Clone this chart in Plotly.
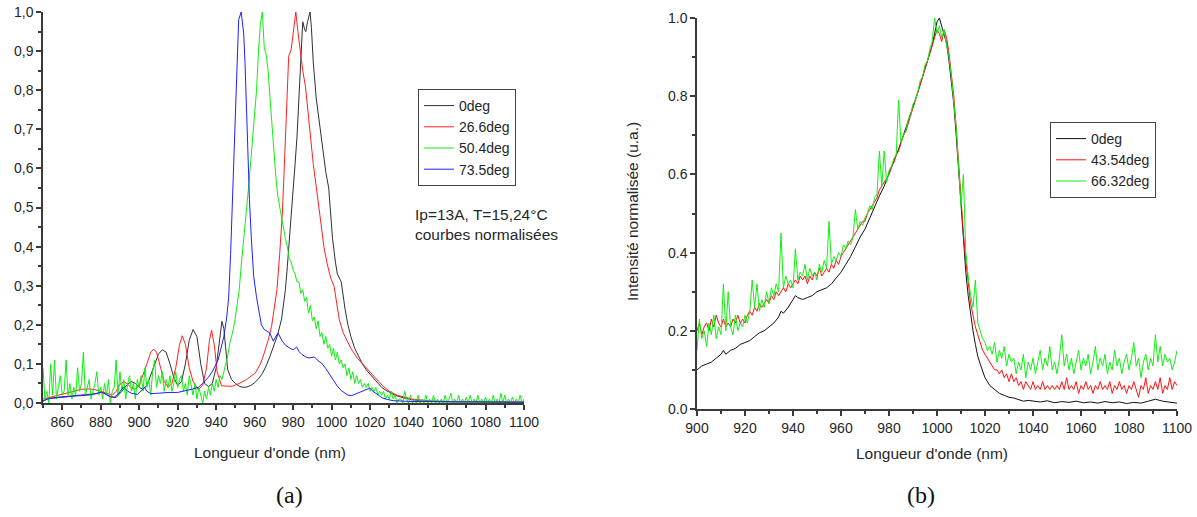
import numpy as np
import plotly.graph_objects as go

# ---------------- (a) data ----------------
a_black_x = [850, 853, 858, 865, 872, 878, 880, 882, 885, 888, 891, 894, 896, 898, 900, 902, 904, 906, 908, 910,
             912, 914, 916, 918, 920, 922, 924, 926, 928, 930, 932, 934, 936, 938, 940, 942, 943, 944, 945, 946,
             948, 950, 952, 954, 956, 958, 960, 962, 964, 966, 968, 970, 972, 974, 976, 977, 978, 979, 980, 981,
             982, 983, 984, 985, 986, 986.6, 987.5, 988.8, 989.5, 990.5, 992, 993.5, 995, 997, 998.5, 999.5, 1000.5,
             1002, 1003, 1005, 1006, 1007, 1008.5, 1010, 1012, 1014, 1016, 1018, 1020, 1022, 1024, 1026, 1028,
             1030, 1033, 1036, 1040, 1045, 1050, 1060, 1080, 1100]
a_black_y = [0.005, 0.012, 0.015, 0.018, 0.02, 0.024, 0.027, 0.024, 0.016, 0.014, 0.03, 0.048, 0.055, 0.05, 0.04, 0.035, 0.045, 0.07, 0.1, 0.125,
             0.136, 0.13, 0.1, 0.065, 0.045, 0.055, 0.1, 0.16, 0.188, 0.17, 0.1, 0.05, 0.042, 0.05, 0.09, 0.18, 0.209, 0.19, 0.13, 0.085,
             0.06, 0.05, 0.043, 0.04, 0.041, 0.045, 0.052, 0.062, 0.075, 0.095, 0.12, 0.15, 0.175, 0.215, 0.29, 0.35, 0.41, 0.48, 0.55, 0.61,
             0.68, 0.79, 0.9, 0.975, 0.955, 0.95, 0.975, 1.0, 0.96, 0.87, 0.78, 0.72, 0.67, 0.59, 0.55, 0.49, 0.42,
             0.36, 0.33, 0.31, 0.27, 0.24, 0.2, 0.17, 0.14, 0.12, 0.1, 0.085, 0.074, 0.062, 0.05, 0.04, 0.033,
             0.027, 0.02, 0.015, 0.01, 0.006, 0.004, 0.003, 0.002, 0.002]

a_red_x = [850, 854, 858, 862, 866, 870, 874, 877, 880, 883, 886, 888, 890, 892, 894, 896, 898, 900, 902, 904,
           906, 907.5, 909, 911, 913, 915, 917, 919, 921, 922.4, 924, 926, 928, 930.7, 933, 935, 936.5, 937.6, 939, 940.5,
           942.8, 946, 948.4, 952, 955.8, 960.4, 963, 965, 967, 968.8, 970, 971.6, 973, 974.4, 975.3, 976.2, 977, 977.7,
           979, 980, 981.4, 982.5, 983.6, 985, 986.4, 988, 989.2, 990.5, 992, 993.5, 994.8, 996, 997.6, 999.5, 1001.3,
           1003, 1004, 1006, 1007.8, 1010, 1013.3, 1016, 1019, 1022, 1024.5, 1027, 1030, 1034, 1037.5, 1042, 1050,
           1060, 1080, 1100]
a_red_y = [0.01, 0.015, 0.02, 0.025, 0.03, 0.035, 0.036, 0.034, 0.03, 0.025, 0.02, 0.03, 0.048, 0.055, 0.048, 0.038, 0.035, 0.045, 0.07, 0.1,
           0.13, 0.138, 0.13, 0.09, 0.055, 0.04, 0.05, 0.09, 0.15, 0.172, 0.15, 0.09, 0.055, 0.034, 0.045, 0.09, 0.16, 0.186, 0.15, 0.08,
           0.044, 0.043, 0.043, 0.05, 0.06, 0.077, 0.1, 0.128, 0.16, 0.196, 0.24, 0.29, 0.38, 0.486, 0.59, 0.69, 0.8, 0.887,
           0.904, 0.95, 1.0, 0.95, 0.9, 0.85, 0.81, 0.73, 0.673, 0.61, 0.554, 0.5, 0.452, 0.4, 0.358, 0.32, 0.298,
           0.24, 0.213, 0.18, 0.162, 0.14, 0.115, 0.1, 0.085, 0.068, 0.055, 0.042, 0.03, 0.02, 0.015, 0.01, 0.006,
           0.004, 0.003, 0.003]

a_blue_x = [850, 852, 855, 860, 865, 870, 875, 878, 880.6, 883, 885, 887, 889, 891, 892, 894, 896, 899, 901, 902.9,
            904, 906, 910, 915, 920, 925, 928, 930.7, 933, 936, 938, 941, 944, 945.5, 946.5, 947.5, 948.4, 949.5, 950.3, 951,
            951.7, 953, 954.3, 955, 955.8, 956.5, 957.3, 958.3, 959.5, 961, 962.3, 963.5, 965, 967.9, 969.7, 972.1, 974.4,
            976, 978, 980, 981.8, 983, 984.6, 986.5, 988.3, 991, 993, 994.8, 997, 998.5, 1000.5, 1003, 1005, 1006.8,
            1008.5, 1010.5, 1013, 1015, 1017.5, 1019.8, 1021.5, 1022.6, 1024.5, 1026.3, 1029, 1032, 1040, 1060, 1100]
a_blue_y = [0.005, 0.01, 0.012, 0.015, 0.017, 0.019, 0.021, 0.025, 0.028, 0.022, 0.016, 0.015, 0.022, 0.036, 0.04, 0.03, 0.025, 0.022, 0.032, 0.04,
            0.03, 0.024, 0.025, 0.027, 0.027, 0.032, 0.036, 0.04, 0.05, 0.066, 0.08, 0.11, 0.17, 0.22, 0.27, 0.38, 0.52, 0.68, 0.82, 0.93,
            0.98, 1.0, 0.946, 0.87, 0.733, 0.62, 0.52, 0.42, 0.324, 0.27, 0.23, 0.2, 0.188, 0.179, 0.158, 0.179, 0.158,
            0.148, 0.141, 0.136, 0.143, 0.132, 0.124, 0.118, 0.115, 0.118, 0.108, 0.102, 0.088, 0.077, 0.06, 0.043, 0.032, 0.026,
            0.02, 0.019, 0.024, 0.03, 0.035, 0.038, 0.03, 0.026, 0.018, 0.013, 0.009, 0.006, 0.004, 0.003, 0.002]

# green (50.4deg), one value per nm starting at 850 nm
a_green_start = 850
a_green_y = [
    0.09, 0.01, 0.03, 0.00, 0.10, 0.02, 0.11, 0.01, 0.04, 0.07,
    0.02, 0.03, 0.11, 0.02, 0.05, 0.01, 0.04, 0.02, 0.09, 0.03,
    0.05, 0.13, 0.02, 0.04, 0.06, 0.01, 0.03, 0.05, 0.08, 0.02,
    0.04, 0.01, 0.05, 0.02, 0.06, 0.00, 0.03, 0.04, 0.11, 0.02,
    0.08, 0.03, 0.06, 0.01, 0.05, 0.07, 0.03, 0.05, 0.01, 0.06,
    0.04, 0.07, 0.03, 0.09, 0.04, 0.06, 0.02, 0.08, 0.11, 0.04,
    0.07, 0.05, 0.08, 0.03, 0.06, 0.04, 0.07, 0.03, 0.05, 0.08,
    0.04, 0.06, 0.07, 0.03, 0.05, 0.02, 0.07, 0.04, 0.02, 0.05,
    0.01, 0.04, 0.02, 0.00, 0.03, 0.01, 0.04, 0.02, 0.05, 0.03,
    0.06, 0.04, 0.07, 0.06, 0.08, 0.10, 0.12, 0.15, 0.17, 0.19,
    0.22, 0.25, 0.29, 0.35, 0.40, 0.46, 0.51, 0.56, 0.62, 0.68,
    0.73, 0.80, 0.90, 0.97, 1.00, 0.91, 0.89, 0.85, 0.78, 0.71,
    0.64, 0.58, 0.53, 0.50, 0.47, 0.45, 0.42, 0.40, 0.37, 0.36,
    0.34, 0.33, 0.31, 0.31, 0.28, 0.29, 0.26, 0.27, 0.23, 0.25,
    0.21, 0.22, 0.19, 0.21, 0.17, 0.18, 0.15, 0.17, 0.14, 0.15,
    0.12, 0.14, 0.11, 0.13, 0.10, 0.11, 0.09, 0.10, 0.07, 0.09,
    0.06, 0.08, 0.05, 0.07, 0.05, 0.06, 0.04, 0.05, 0.04, 0.05,
    0.03, 0.04, 0.03, 0.04, 0.02, 0.03, 0.02, 0.03, 0.01, 0.02,
    0.01, 0.03, 0.01, 0.02, 0.00, 0.01, 0.01, 0.00, 0.03, 0.01,
    0.00, 0.02, 0.00, 0.01, 0.00, 0.02, 0.00, 0.01, 0.00, 0.02,
    0.00, 0.01, 0.00, 0.02, 0.00, 0.01, 0.00, 0.01, 0.00, 0.02,
    0.00, 0.01, 0.025, 0.00, 0.01, 0.00, 0.02, 0.00, 0.01, 0.00,
    0.015, 0.00, 0.02, 0.00, 0.01, 0.00, 0.02, 0.00, 0.01, 0.00,
    0.015, 0.00, 0.01, 0.00, 0.02, 0.00, 0.01, 0.00, 0.025, 0.00,
    0.02, 0.00, 0.01, 0.00, 0.015, 0.00, 0.01, 0.00, 0.02, 0.00,
    0.01,
]

# ---------------- (b) data ----------------
b_black_x = [900, 902, 904, 906, 908, 910, 911, 912, 914, 916, 918, 920, 922, 924, 926, 928, 930, 932, 934, 935,
             936, 938, 940, 941, 942, 944, 946, 948, 950, 952, 954, 956, 958, 960, 962, 964, 966, 968, 970, 972,
             974, 976, 978, 980, 982, 984, 986, 988, 990, 992, 994, 996, 998, 999, 1000, 1001, 1002, 1003, 1004, 1005,
             1006, 1007, 1008, 1009, 1010, 1011, 1012, 1013, 1014, 1015, 1016, 1017, 1018, 1019, 1020, 1022, 1024, 1026,
             1028, 1030, 1032, 1034, 1036, 1038, 1040, 1043, 1046, 1049, 1052, 1055, 1058, 1061, 1064, 1067, 1070,
             1073, 1076, 1079, 1082, 1085, 1088, 1091, 1094, 1097, 1100]
b_black_y = [0.10, 0.11, 0.115, 0.12, 0.13, 0.14, 0.15, 0.14, 0.15, 0.155, 0.165, 0.17, 0.175, 0.185, 0.195, 0.20, 0.21, 0.22, 0.235, 0.25,
             0.245, 0.26, 0.28, 0.29, 0.285, 0.28, 0.285, 0.29, 0.30, 0.305, 0.31, 0.32, 0.335, 0.35, 0.37, 0.39, 0.415, 0.44, 0.46, 0.49,
             0.515, 0.545, 0.57, 0.60, 0.63, 0.665, 0.70, 0.735, 0.77, 0.81, 0.85, 0.89, 0.93, 0.96, 0.99, 1.0, 0.98, 0.96, 0.935, 0.89,
             0.84, 0.78, 0.70, 0.61, 0.52, 0.43, 0.35, 0.29, 0.24, 0.20, 0.165, 0.135, 0.115, 0.095, 0.08, 0.06, 0.05, 0.04,
             0.035, 0.03, 0.028, 0.025, 0.02, 0.022, 0.02, 0.018, 0.021, 0.016, 0.019, 0.017, 0.02, 0.016, 0.018, 0.015, 0.019,
             0.016, 0.018, 0.014, 0.017, 0.015, 0.02, 0.025, 0.02, 0.018, 0.015]

# red (43.54deg), one value per nm starting at 900 nm
b_red_start = 900
b_red_y = [
    0.20, 0.22, 0.19, 0.21, 0.22, 0.20, 0.23, 0.21, 0.24, 0.22,
    0.21, 0.23, 0.21, 0.22, 0.21, 0.23, 0.22, 0.24, 0.22, 0.23,
    0.22, 0.24, 0.25, 0.24, 0.26, 0.25, 0.27, 0.26, 0.27, 0.28,
    0.27, 0.29, 0.28, 0.30, 0.29, 0.30, 0.31, 0.30, 0.32, 0.31,
    0.32, 0.33, 0.32, 0.34, 0.33, 0.34, 0.32, 0.34, 0.33, 0.35,
    0.34, 0.36, 0.34, 0.35, 0.36, 0.35, 0.37, 0.36, 0.38, 0.37,
    0.39, 0.40, 0.41, 0.42, 0.43, 0.44, 0.45, 0.46, 0.47, 0.48,
    0.48, 0.50, 0.51, 0.52, 0.53, 0.54, 0.56, 0.57, 0.58, 0.59,
    0.60, 0.62, 0.63, 0.65, 0.66, 0.68, 0.70, 0.71, 0.73, 0.75,
    0.77, 0.79, 0.81, 0.83, 0.85, 0.87, 0.89, 0.91, 0.93, 0.95,
    0.97, 0.96, 0.94, 0.97, 0.95, 0.91, 0.86, 0.80, 0.72, 0.63,
    0.53, 0.45, 0.38, 0.32, 0.27, 0.24, 0.21, 0.19, 0.17, 0.15,
    0.14, 0.13, 0.12, 0.11, 0.10, 0.10, 0.09, 0.10, 0.08, 0.09,
    0.07, 0.09, 0.07, 0.08, 0.06, 0.07, 0.05, 0.07, 0.06, 0.05,
    0.07, 0.05, 0.06, 0.05, 0.07, 0.05, 0.06, 0.05, 0.06, 0.05,
    0.06, 0.05, 0.07, 0.05, 0.08, 0.05, 0.06, 0.05, 0.07, 0.04,
    0.06, 0.05, 0.07, 0.05, 0.06, 0.04, 0.06, 0.05, 0.07, 0.05,
    0.06, 0.05, 0.07, 0.04, 0.06, 0.05, 0.07, 0.05, 0.06, 0.04,
    0.06, 0.05, 0.07, 0.05, 0.03, 0.06, 0.05, 0.08, 0.04, 0.06,
    0.05, 0.07, 0.05, 0.08, 0.04, 0.06, 0.05, 0.08, 0.05, 0.07,
    0.06,
]

# green (66.32deg), one value per nm starting at 900 nm
b_green_start = 900
b_green_y = [
    0.15, 0.23, 0.18, 0.20, 0.16, 0.22, 0.19, 0.24, 0.18, 0.21,
    0.19, 0.32, 0.20, 0.30, 0.21, 0.19, 0.24, 0.20, 0.22, 0.21,
    0.24, 0.22, 0.25, 0.33, 0.26, 0.32, 0.25, 0.28, 0.26, 0.30,
    0.27, 0.31, 0.29, 0.32, 0.30, 0.45, 0.31, 0.34, 0.32, 0.33,
    0.31, 0.41, 0.33, 0.35, 0.34, 0.37, 0.33, 0.36, 0.34, 0.35,
    0.33, 0.37, 0.35, 0.38, 0.36, 0.48, 0.37, 0.39, 0.38, 0.40,
    0.39, 0.42, 0.41, 0.43, 0.42, 0.44, 0.51, 0.46, 0.48, 0.47,
    0.49, 0.50, 0.52, 0.51, 0.54, 0.55, 0.66, 0.57, 0.66, 0.58,
    0.61, 0.62, 0.64, 0.65, 0.79, 0.68, 0.70, 0.71, 0.74, 0.75,
    0.78, 0.79, 0.81, 0.84, 0.85, 0.88, 0.89, 0.92, 0.94, 1.00,
    0.96, 0.98, 0.95, 0.97, 0.93, 0.90, 0.85, 0.79, 0.72, 0.62,
    0.52, 0.60, 0.40, 0.34, 0.29, 0.26, 0.33, 0.22, 0.20, 0.18,
    0.17, 0.15, 0.16, 0.14, 0.17, 0.12, 0.15, 0.13, 0.16, 0.11,
    0.14, 0.12, 0.13, 0.09, 0.12, 0.10, 0.14, 0.08, 0.12, 0.10,
    0.13, 0.09, 0.12, 0.15, 0.10, 0.13, 0.11, 0.16, 0.10, 0.12,
    0.09, 0.13, 0.19, 0.11, 0.14, 0.10, 0.13, 0.09, 0.12, 0.15,
    0.10, 0.13, 0.11, 0.14, 0.09, 0.12, 0.16, 0.10, 0.13, 0.11,
    0.14, 0.09, 0.12, 0.10, 0.15, 0.11, 0.13, 0.09, 0.12, 0.14,
    0.10, 0.13, 0.17, 0.11, 0.13, 0.08, 0.12, 0.14, 0.10, 0.13,
    0.11, 0.19, 0.12, 0.16, 0.11, 0.14, 0.12, 0.13, 0.10, 0.12,
    0.15,
]

a_ticks = [0.0, 0.1, 0.2, 0.3, 0.4, 0.5, 0.6, 0.7, 0.8, 0.9, 1.0]
a_ticktext = ["0,0", "0,1", "0,2", "0,3", "0,4", "0,5", "0,6", "0,7", "0,8", "0,9", "1,0"]

a_green_x = a_green_start + np.arange(len(a_green_y))
b_red_x = b_red_start + np.arange(len(b_red_y))
b_green_x = b_green_start + np.arange(len(b_green_y))

W, H = 1197, 517
FONT = "Liberation Sans, Arial, sans-serif"
TXT = "#262626"
AX = "#3a3a3a"

fig = go.Figure()

def line(x, y, color, name, xa, ya, leg):
    fig.add_trace(go.Scatter(x=x, y=y, mode="lines", name=name, xaxis=xa, yaxis=ya,
                             legend=leg, legendgroup=leg + name,
                             line=dict(color=color, width=1)))

line(a_black_x, a_black_y, "#303030", "0deg", "x", "y", "legend")
line(a_red_x, a_red_y, "#ff2020", "26.6deg", "x", "y", "legend")
line(a_green_x, a_green_y, "#10ee10", "50.4deg", "x", "y", "legend")
line(a_blue_x, a_blue_y, "#2020ff", "73.5deg", "x", "y", "legend")

line(b_black_x, b_black_y, "#101010", "0deg", "x2", "y2", "legend2")
line(b_red_x, b_red_y, "#ff1010", "43.54deg", "x2", "y2", "legend2")
line(b_green_x, b_green_y, "#10f010", "66.32deg", "x2", "y2", "legend2")

def px_x(p):
    return p / W

def px_y(p):
    return 1 - p / H

axis_common = dict(showline=True, linecolor=AX, linewidth=1.5, ticks="outside", ticklen=5,
                   tickwidth=1.5, tickcolor=AX, showgrid=False, zeroline=False, mirror=False,
                   tickfont=dict(family=FONT, size=14, color=TXT))

leg_common = dict(xanchor="left", yanchor="top", bgcolor="white", bordercolor="#444", borderwidth=1,
                  font=dict(family=FONT, size=14, color=TXT), tracegroupgap=0, itemwidth=30)

fig.update_layout(
    width=W, height=H, autosize=False,
    margin=dict(l=0, r=0, t=0, b=0, pad=0, autoexpand=False),
    paper_bgcolor="white", plot_bgcolor="white",
    showlegend=True,
    xaxis=dict(domain=[px_x(43), px_x(524)], range=[850, 1100], anchor="y",
               tickvals=list(range(860, 1101, 20)),
               minor=dict(ticks="outside", tickvals=list(range(850, 1101, 10)), ticklen=3, tickcolor=AX),
               **axis_common),
    yaxis=dict(domain=[px_y(403), px_y(12)], range=[0, 1.0], anchor="x",
               tickvals=a_ticks, ticktext=a_ticktext,
               minor=dict(ticks="outside", dtick=0.05, ticklen=3, tickcolor=AX),
               **axis_common),
    xaxis2=dict(domain=[px_x(697), px_x(1177)], range=[900, 1100], anchor="y2",
                tickvals=list(range(900, 1101, 20)),
                minor=dict(ticks="outside", dtick=10, ticklen=3, tickcolor=AX),
                **axis_common),
    yaxis2=dict(domain=[px_y(409), px_y(18)], range=[0, 1.0], anchor="x2",
                tickvals=[0, 0.2, 0.4, 0.6, 0.8, 1.0], tickformat=".1f",
                minor=dict(ticks="outside", dtick=0.1, ticklen=3, tickcolor=AX),
                **axis_common),
    legend=dict(x=px_x(418), y=px_y(89), **leg_common),
    legend2=dict(x=px_x(1050), y=px_y(122), **leg_common),
)

ann = []
ann.append(dict(text="Ip=13A, T=15,24°C<br>courbes normalisées", x=px_x(413), y=px_y(224),
                xref="paper", yref="paper", xanchor="left", yanchor="middle", align="left",
                showarrow=False, font=dict(family=FONT, size=15.5, color=TXT)))
ann.append(dict(text="Longueur d'onde (nm)", x=px_x(270), y=px_y(452), xref="paper", yref="paper",
                xanchor="center", yanchor="middle", showarrow=False,
                font=dict(family=FONT, size=15.5, color=TXT)))
ann.append(dict(text="Longueur d'onde (nm)", x=px_x(932), y=px_y(453), xref="paper", yref="paper",
                xanchor="center", yanchor="middle", showarrow=False,
                font=dict(family=FONT, size=15.5, color=TXT)))
ann.append(dict(text="Intensité normalisée (u.a.)", x=px_x(632), y=px_y(212), xref="paper", yref="paper",
                xanchor="center", yanchor="middle", showarrow=False, textangle=-90,
                font=dict(family=FONT, size=15.5, color=TXT)))
ann.append(dict(text="(a)", x=px_x(289), y=px_y(495), xref="paper", yref="paper",
                xanchor="center", yanchor="middle", showarrow=False,
                font=dict(family="Liberation Serif, DejaVu Serif, serif", size=24, color="#111")))
ann.append(dict(text="(b)", x=px_x(921), y=px_y(495), xref="paper", yref="paper",
                xanchor="center", yanchor="middle", showarrow=False,
                font=dict(family="Liberation Serif, DejaVu Serif, serif", size=24, color="#111")))
fig.update_layout(annotations=ann)

fig.write_html("out.html", config={"displayModeBar": False},
               post_script="document.body.style.margin='0';document.body.style.overflow='hidden';")
